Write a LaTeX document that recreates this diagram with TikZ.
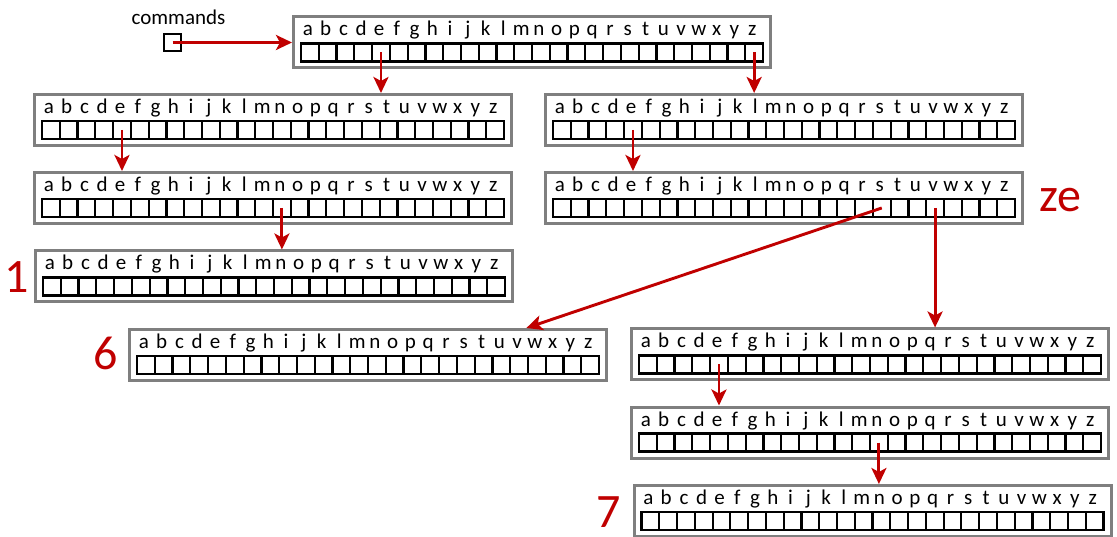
\documentclass[tikz,border=0pt]{standalone}
\usepackage{fontspec}
\setmainfont{Carlito}
\usepackage{tikz}
\usetikzlibrary{positioning}
\usetikzlibrary{calc, arrows.meta}

\definecolor{rojo}{RGB}{192,0,0}
\definecolor{gris}{RGB}{127,127,127}

\tikzset{
  arreglo/.style={draw=gris, line width=3pt, minimum width=477pt, minimum height=51pt, inner sep=0pt},
  celda/.style={draw=black, line width=2.2pt, minimum width=17.77pt, minimum height=18pt, inner sep=0pt},
  letra/.style={anchor=base, inner sep=0pt, font=\fontsize{21}{25}\selectfont},
  numero/.style={anchor=base, inner sep=0pt, text=rojo, font=\fontsize{48}{56}\selectfont},
  enlace/.style={-{Stealth[length=16pt,width=15pt,inset=4pt]}, line width=2.9pt, draw=rojo},
}

% arreglo de 26 celdas con su abecedario encima
\newcommand{\trienodo}[2]{%
  \node[arreglo] (#1) at (#2) {};
  \foreach \ltr [count=\i from 0] in {a,...,z}{
    \node[celda] (#1-\ltr) at ($(#1.center)+(-222.1+\i*17.77,10)$) {};
    \node[letra] at ($(#1-\ltr)+(-2,-16.5)$) {\ltr};
  }
}

\begin{document}
\begin{tikzpicture}[x=1pt, y=-1pt]
  \useasboundingbox (0,0) rectangle (1117,537);

  % Arreglos del trie
  \trienodo{raiz}{532,42.5}
  \trienodo{iz1}{273,120}
  \trienodo{de1}{784,120}
  \trienodo{iz2}{273,198}
  \trienodo{de2}{784,198}
  \trienodo{iz3}{274,276.5}
  \trienodo{seis}{368,355}
  \trienodo{de4}{870,354.5}
  \trienodo{de5}{870,432.5}
  \trienodo{siete}{872.5,511}

  % Entrada
  \node[letra, font=\fontsize{21}{25}\selectfont] (cmdtxt) at (178.5,25) {commands};
  \node[draw, line width=2pt, minimum size=17pt, inner sep=0pt] (cmd) at (172.5,42.5) {};

  % Etiquetas
  \node[numero] (n1) at (17,293) {1};
  \node[numero] (n6) at (106,370) {6};
  \node[numero] (n7) at (609,527) {7};
  \node[numero] (nze) at (1060,212) {ze};

  % Enlaces entre arreglos
  \coordinate (seis-in) at ($(seis.north west)!0.83!(seis.north east)$);
  \draw[enlace] (cmd.center) -- (raiz.west);
  \draw[enlace] (raiz-e.center) -- (raiz-e |- iz1.north);
  \draw[enlace] (raiz-z.center) -- (raiz-z |- de1.north);
  \draw[enlace] (iz1-e.center) -- (iz1-e |- iz2.north);
  \draw[enlace] (de1-e.center) -- (de1-e |- de2.north);
  \draw[enlace] (iz2-n.center) -- (iz2-n |- iz3.north);
  \draw[enlace] (de2-s.center) -- (seis-in);
  \draw[enlace] (de2-v.center) -- (de2-v |- de4.north);
  \draw[enlace] (de4-e.center) -- (de4-e |- de5.north);
  \draw[enlace] (de5-n.center) -- (de5-n |- siete.north);
\end{tikzpicture}
\end{document}
